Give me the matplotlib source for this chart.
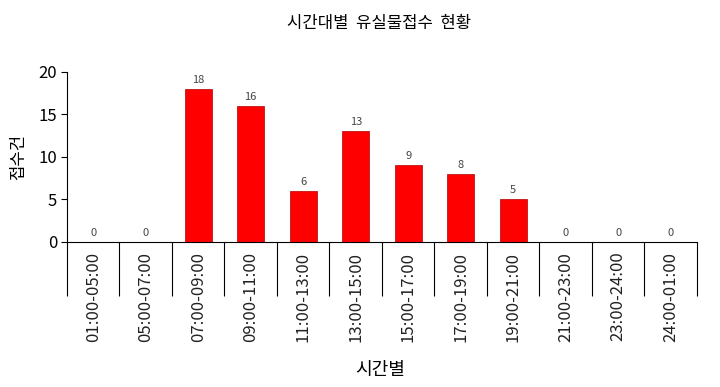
import matplotlib
matplotlib.use("Agg")
import matplotlib.pyplot as plt
import numpy as np

plt.rcParams['font.family'] = ['Noto Sans CJK KR', 'DejaVu Sans']

categories = ["01:00-05:00", "05:00-07:00", "07:00-09:00", "09:00-11:00",
              "11:00-13:00", "13:00-15:00", "15:00-17:00", "17:00-19:00",
              "19:00-21:00", "21:00-23:00", "23:00-24:00", "24:00-01:00"]
values = [0, 0, 18, 16, 6, 13, 9, 8, 5, 0, 0, 0]
yticks = [0, 5, 10, 15, 20]

fig = plt.figure(figsize=(7.2, 3.87), dpi=100)
ax = fig.add_axes([0.093, 0.3747, 0.875, 0.4393])

x = np.arange(len(categories))
ax.bar(x, values, width=0.52, color='#ff0000', edgecolor='#b00000', linewidth=0.5)
for xi, v in zip(x, values):
    ax.text(xi, v + 0.5, str(v), ha='center', va='bottom', fontsize=8, color='#444444')

ax.set_xlim(-0.5, len(categories) - 0.5)
ax.set_ylim(0, 20)
ax.set_yticks(yticks)
ax.tick_params(axis='y', labelsize=12, length=4, width=0.8, pad=3)

ax.set_xticks(x)
ax.set_xticklabels(categories, rotation=90, fontsize=12, color='#222222')
ax.tick_params(axis='x', which='major', length=0, pad=7)
ax.set_xticks(np.arange(-0.5, len(categories)), minor=True)
ax.tick_params(axis='x', which='minor', length=39, width=0.8, direction='out')

for s in ['top', 'right']:
    ax.spines[s].set_visible(False)
ax.spines['left'].set_linewidth(0.8)
ax.spines['bottom'].set_linewidth(0.8)

ax.set_ylabel('접수건', fontsize=12, labelpad=8)
fig.text(0.528, 0.045, '시간별', ha='center', va='center', fontsize=13)
fig.text(0.527, 0.94, '시간대별  유실물접수  현황', ha='center', va='center', fontsize=12)

fig.savefig('out.png', dpi=100)
